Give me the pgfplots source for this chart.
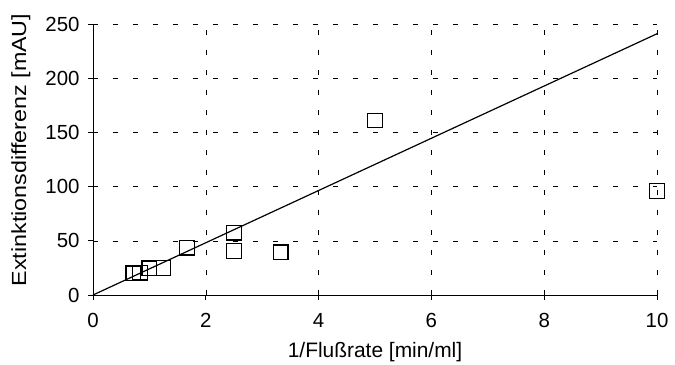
\documentclass[border=0pt]{standalone}
\usepackage{pgfplots}
\pgfplotsset{compat=1.18}
\usepackage{fontspec}
\setmainfont{Liberation Sans}
\begin{document}
\begin{tikzpicture}
\path[use as bounding box] (-93bp,-70bp) rectangle (582bp,295bp);
\begin{axis}[
  scale only axis,
  width=564bp, height=271bp,
  xmin=0, xmax=10, ymin=0, ymax=250,
  xtick={0,2,4,6,8,10}, ytick={0,50,...,250},
  axis x line*=bottom, axis y line*=left,
  axis line style={black, line width=0.8pt, -},
  tick align=outside, major tick length=5bp,
  tick style={black, line width=0.8pt},
  grid=major,
  grid style={black, line width=0.6pt, dash pattern=on 5bp off 15bp},
  /pgf/number format/assume math mode=true,
  ticklabel style={font=\fontsize{20.5}{22}\selectfont},
  xticklabel style={yshift=-10bp},
  yticklabel style={xshift=-5bp},
  xlabel={1/Flußrate [min/ml]},
  ylabel={Extinktionsdifferenz [mAU]},
  xlabel style={font=\fontsize{21}{22}\selectfont, at={(axis description cs:0.5,-0.21)}, anchor=center},
  ylabel style={font=\fontsize{20.5}{22}\selectfont, at={(axis description cs:-0.128,0.535)}, anchor=center, xscale=1.14},
  clip=false,
]
\addplot[black, line width=1.2pt] coordinates {(0,0) (10,241)};
\addplot[only marks, mark=square, mark size=7.3bp, mark options={black, line width=1.3pt, fill=none}] coordinates {
(0.714,20) (0.833,20.6) (1.0,24.6) (1.25,25) (1.667,43.6) (2.5,57.5) (2.5,40.6) (3.33,39.4) (5.0,161) (10.0,96)
};
\end{axis}
\end{tikzpicture}
\end{document}
